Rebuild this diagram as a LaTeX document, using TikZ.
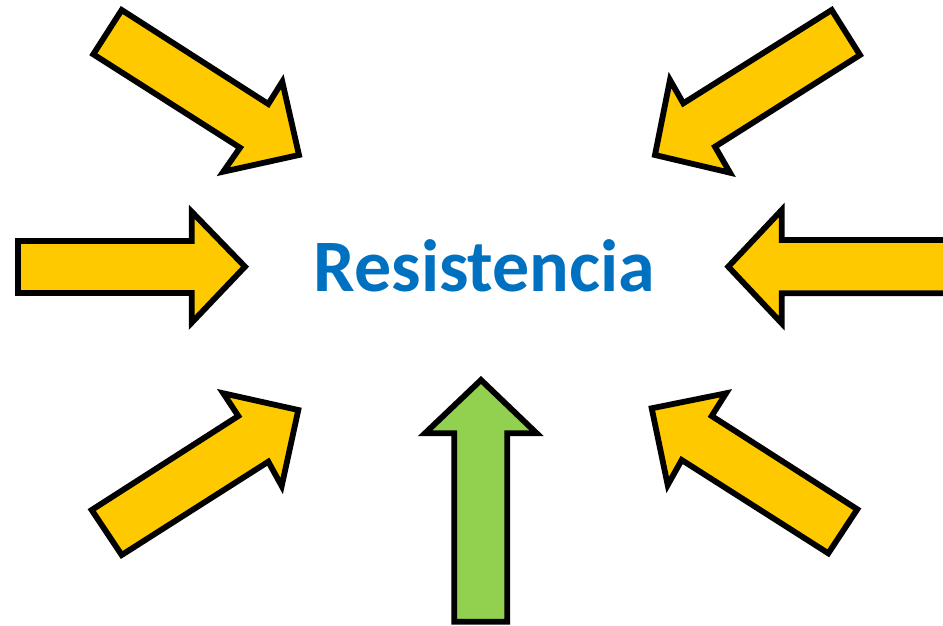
\documentclass[tikz,border=0pt]{standalone}
\usepackage{fontspec}
\setmainfont{Carlito}
\definecolor{arrowyellow}{HTML}{FFC900}
\definecolor{arrowgreen}{HTML}{92D050}
\definecolor{textblue}{HTML}{0070C0}
\begin{document}
\begin{tikzpicture}[x=1pt,y=-1pt,
  bigarrow/.style={draw=black,line width=5.8pt,line join=miter,fill=arrowyellow},
  greenarrow/.style={bigarrow,fill=arrowgreen}]
\useasboundingbox (0,0) rectangle (943,626);
\clip (0,0) rectangle (943,626);
% top-left
\draw[bigarrow] (121.7,10) -- (268.3,104) -- (282.3,81.7) -- (299,155) -- (223.3,171.7) -- (240,147.7) -- (93.3,54.3) -- cycle;
% top-right
\draw[bigarrow] (831.7,10) -- (683.3,103.3) -- (670,80) -- (655,155) -- (730,172.7) -- (715,146.7) -- (860,55) -- cycle;
% bottom-left
\draw[bigarrow] (91.7,510) -- (238.3,416) -- (223.3,393.3) -- (298.3,410) -- (281.7,486) -- (268.3,461.7) -- (121.7,555) -- cycle;
% bottom-right
\draw[bigarrow] (857.3,509.3) -- (711.7,416) -- (726,393.3) -- (651.7,408.3) -- (667.7,485) -- (681.7,460) -- (828.3,553.3) -- cycle;
% left
\draw[bigarrow] (18,241) -- (191.7,241) -- (191.7,211.7) -- (245,266.7) -- (191.7,322.7) -- (191.7,293) -- (18,293) -- cycle;
% right
\draw[bigarrow] (960,240) -- (781.7,240) -- (781.7,210) -- (728.3,266.7) -- (781.7,323.3) -- (781.7,293.3) -- (960,293.3) -- cycle;
% bottom green
\draw[greenarrow] (454.3,621.7) -- (454.3,433.3) -- (425,433.3) -- (481,380) -- (536.7,433.3) -- (507.3,433.3) -- (507.3,621.7) -- cycle;
% label
\node[anchor=base,inner sep=0pt,text=textblue,font=\fontsize{74}{76}\selectfont\bfseries] (label) at (484.5,291.7) {Resistencia};
\end{tikzpicture}
\end{document}
